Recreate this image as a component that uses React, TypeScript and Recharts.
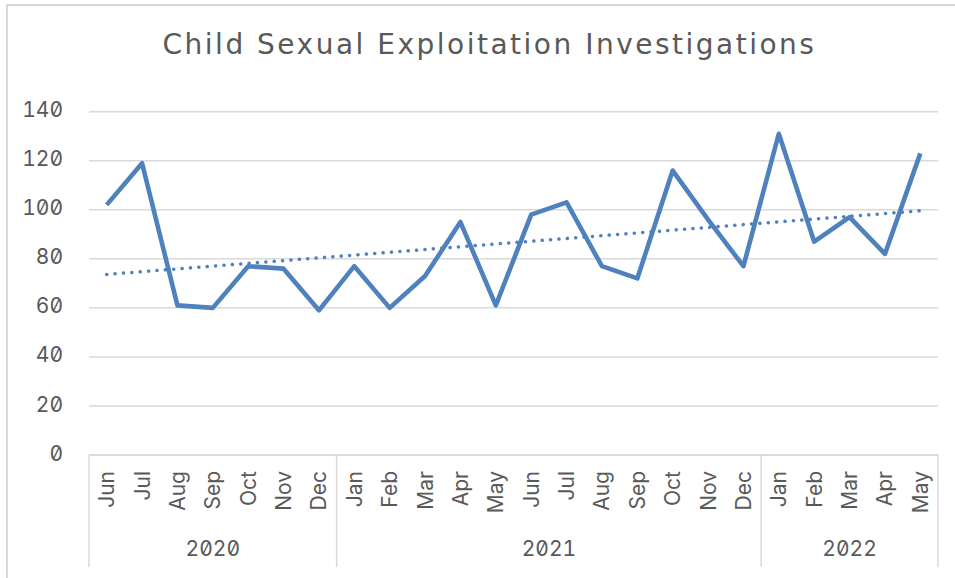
import { LineChart, Line, XAxis, YAxis, CartesianGrid } from "recharts";

const months = [
  "Jun", "Jul", "Aug", "Sep", "Oct", "Nov", "Dec",
  "Jan", "Feb", "Mar", "Apr", "May", "Jun", "Jul", "Aug", "Sep", "Oct", "Nov", "Dec",
  "Jan", "Feb", "Mar", "Apr", "May",
];
const years = [
  "2020", "2020", "2020", "2020", "2020", "2020", "2020",
  "2021", "2021", "2021", "2021", "2021", "2021", "2021", "2021", "2021", "2021", "2021", "2021",
  "2022", "2022", "2022", "2022", "2022",
];
const investigations = [
  102, 119, 61, 60, 77, 76, 59,
  77, 60, 73, 95, 61, 98, 103, 77, 72, 116, 96, 77,
  131, 87, 97, 82, 123,
];
const yTicks = [0, 20, 40, 60, 80, 100, 120, 140];

// linear trendline (least squares), like Excel does
const n = investigations.length;
const meanX = (n - 1) / 2;
const meanY = investigations.reduce((a, b) => a + b, 0) / n;
let sxy = 0;
let sxx = 0;
investigations.forEach((v, i) => {
  sxy += (i - meanX) * (v - meanY);
  sxx += (i - meanX) * (i - meanX);
});
const slope = sxy / sxx;
const intercept = meanY - slope * meanX;

const data = months.map((m, i) => ({
  month: m,
  year: years[i],
  value: investigations[i],
  trend: intercept + slope * i,
}));

const W = 955;
const H = 578;
const LEFT = 89;
const RIGHT = 17;
const TOP = 111.7;
const AXIS_H = 123;
const BAND = (W - LEFT - RIGHT) / n;
const BOX_BOTTOM = 567;
const TEXT = "#595959";
const GRID = "#d9d9d9";
const BLUE = "#4f81bd";
const FONT = "Inter, 'Noto Sans', sans-serif";

function MonthTick(props: any) {
  const { x, y, payload } = props;
  const i = payload.index;
  const yr = years[i];
  const isStart = i === 0 || years[i - 1] !== yr;
  const isLast = i === n - 1;
  let groupLen = 0;
  if (isStart) {
    let j = i;
    while (j < n && years[j] === yr) {
      groupLen++;
      j++;
    }
  }
  const left = x - BAND / 2;
  return (
    <g>
      <text
        x={x}
        y={y + 16}
        transform={`rotate(-90, ${x}, ${y + 16})`}
        textAnchor="end"
        dy="0.36em"
        fill={TEXT}
        fontSize={21}
        fontFamily={FONT}
      >
        {payload.value}
      </text>
      {isStart && (
        <line x1={left} y1={y} x2={left} y2={BOX_BOTTOM} stroke={GRID} strokeWidth={1.5} />
      )}
      {isLast && (
        <line x1={x + BAND / 2} y1={y} x2={x + BAND / 2} y2={BOX_BOTTOM} stroke={GRID} strokeWidth={1.5} />
      )}
      {isStart && (
        <text
          x={left + (groupLen * BAND) / 2}
          y={556}
          textAnchor="middle"
          fill={TEXT}
          fontSize={21}
          fontFamily={FONT}
        >
          {yr}
        </text>
      )}
    </g>
  );
}

function ValueTick(props: any) {
  const { y, payload } = props;
  return (
    <text
      x={63}
      y={y - 2}
      textAnchor="end"
      dy="0.36em"
      fill={TEXT}
      fontSize={21}
      fontFamily={FONT}
    >
      {payload.value}
    </text>
  );
}

export default function App() {
  return (
    <div
      style={{
        position: "absolute",
        left: 0,
        top: 0,
        width: W,
        height: H,
        overflow: "hidden",
        background: "#fff",
        fontFeatureSettings: '"zero" 1, "tnum" 1',
      }}
    >
      <div
        style={{
          position: "absolute",
          left: 6,
          top: 4,
          width: 1000,
          height: 1000,
          border: `2px solid ${GRID}`,
        }}
      />
      <div
        style={{
          position: "absolute",
          left: 12,
          top: 31,
          width: W,
          textAlign: "center",
          fontFamily: "'DejaVu Sans', sans-serif",
          fontSize: 28,
          letterSpacing: 2.5,
          color: TEXT,
          lineHeight: "28px",
          fontFeatureSettings: "normal",
        }}
      >
        Child Sexual Exploitation Investigations
      </div>
      <div style={{ position: "absolute", left: 0, top: 0 }}>
        <LineChart
          width={W}
          height={H}
          data={data}
          margin={{ top: TOP, right: RIGHT, left: 0, bottom: 0 }}
        >
          <CartesianGrid vertical={false} stroke={GRID} strokeWidth={1.5} />
          <XAxis
            dataKey="month"
            interval={0}
            height={AXIS_H}
            padding={{ left: BAND / 2, right: BAND / 2 }}
            tickSize={0}
            tickMargin={0}
            tickLine={false}
            axisLine={{ stroke: GRID, strokeWidth: 1.5 }}
            tick={<MonthTick />}
          />
          <YAxis
            width={LEFT}
            domain={[0, 140]}
            ticks={yTicks}
            axisLine={false}
            tickLine={false}
            tick={<ValueTick />}
          />
          <Line
            dataKey="trend"
            stroke={BLUE}
            strokeWidth={3.5}
            strokeDasharray="0.1 8.3"
            strokeLinecap="round"
            dot={false}
            activeDot={false}
            isAnimationActive={false}
          />
          <Line
            dataKey="value"
            stroke={BLUE}
            strokeWidth={4.6}
            strokeLinejoin="round"
            dot={false}
            activeDot={false}
            isAnimationActive={false}
          />
        </LineChart>
      </div>
    </div>
  );
}
